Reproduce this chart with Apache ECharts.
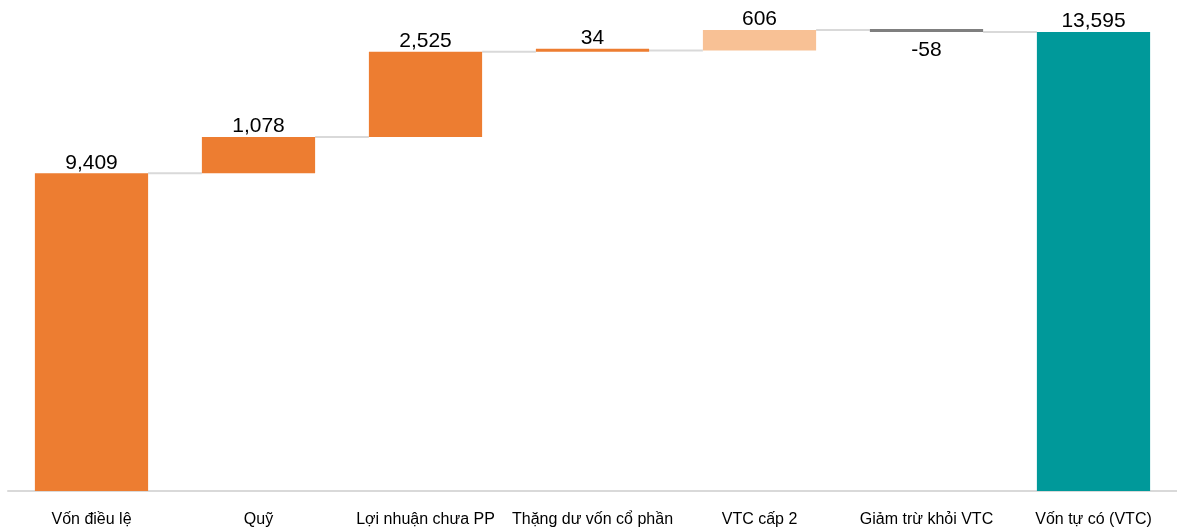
<!DOCTYPE html>
<html lang="vi">
<head>
    <meta charset="utf-8" />
    <title>Vốn tự có (VTC)</title>
    <script src="https://cdn.jsdelivr.net/npm/echarts@6/dist/echarts.min.js"></script>
    <style>
        html, body { margin: 0; padding: 0; background: #fff; }
        #chart { width: 1177px; height: 528px; }
    </style>
</head>
<body>
    <div id="chart"></div>
    <script>
        // du lieu doc tu hinh
        var categories = ['Vốn điều lệ', 'Quỹ', 'Lợi nhuận chưa PP', 'Thặng dư vốn cổ phần', 'VTC cấp 2', 'Giảm trừ khỏi VTC', 'Vốn tự có (VTC)'];
        var values = [9409, 1078, 2525, 34, 606, -58, 13595];
        var isTotal = [false, false, false, false, false, false, true];
        var barColors = ['#ED7D31', '#ED7D31', '#ED7D31', '#ED7D31', '#F8C195', '#7F7F7F', '#00999A'];

        // tinh phan day (trong suot) va phan hien thi
        var baseData = [];
        var showData = [];
        var levels = [];
        var running = 0;
        for (var i = 0; i < values.length; i++) {
            var v = values[i];
            if (isTotal[i]) {
                baseData.push(0);
                showData.push(v);
                running = v;
            } else if (v >= 0) {
                baseData.push(running);
                showData.push(v);
                running += v;
            } else {
                baseData.push(running + v);
                showData.push(-v);
                running += v;
            }
            levels.push(running);
        }

        var connectorData = [];
        for (var i = 0; i < values.length - 1; i++) {
            connectorData.push([i, levels[i]]);
        }

        var barRatio = 0.678;

        var chart = echarts.init(document.getElementById('chart'));
        var option = {
            animation: false,
            grid: { left: 8, top: 32, width: 1172, height: 459 },
            xAxis: {
                type: 'category',
                data: categories,
                axisLine: { lineStyle: { color: '#D9D9D9', width: 2 } },
                axisTick: { show: false },
                axisLabel: {
                    interval: 0,
                    margin: 21,
                    color: '#000',
                    fontSize: 16,
                    fontFamily: 'Liberation Sans, Arial, sans-serif'
                }
            },
            yAxis: {
                type: 'value',
                min: 0,
                max: 13595,
                show: false,
                splitLine: { show: false }
            },
            series: [
                {
                    type: 'custom',
                    z: 1,
                    clip: false,
                    data: connectorData,
                    renderItem: function (params, api) {
                        var p = api.coord([api.value(0), api.value(1)]);
                        var step = api.size([1, 0])[0];
                        var half = step * barRatio / 2;
                        return {
                            type: 'line',
                            shape: { x1: p[0] + half, y1: p[1], x2: p[0] + step - half, y2: p[1] },
                            style: { stroke: '#D9D9D9', lineWidth: 2 }
                        };
                    }
                },
                {
                    type: 'bar',
                    stack: 'wf',
                    clip: false,
                    barWidth: (barRatio * 100) + '%',
                    itemStyle: { color: 'transparent' },
                    emphasis: { disabled: true },
                    data: baseData
                },
                {
                    type: 'bar',
                    stack: 'wf',
                    z: 3,
                    clip: false,
                    barMinHeight: 3,
                    data: showData.map(function (v, i) {
                        return {
                            value: v,
                            itemStyle: { color: barColors[i] },
                            label: values[i] < 0 ? { position: 'bottom', distance: 8 } : { position: 'top' }
                        };
                    }),
                    label: {
                        show: true,
                        distance: 0,
                        color: '#000',
                        fontSize: 21,
                        fontFamily: 'Liberation Sans, Arial, sans-serif',
                        formatter: function (p) {
                            return values[p.dataIndex].toLocaleString('en-US');
                        }
                    }
                }
            ]
        };
        chart.setOption(option);
    </script>
</body>
</html>
